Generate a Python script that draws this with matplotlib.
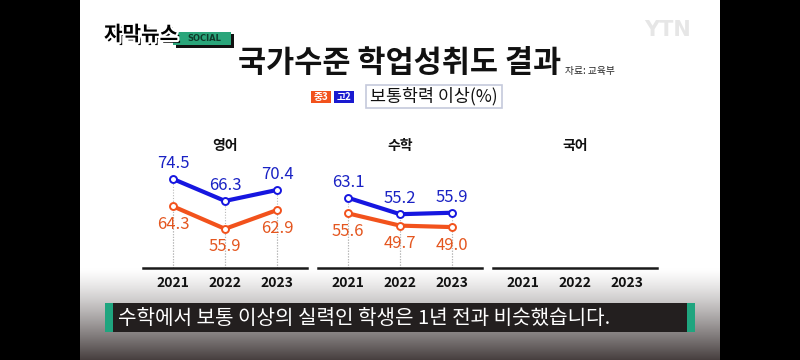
import numpy as np
import matplotlib
matplotlib.use("Agg")
import matplotlib.pyplot as plt
from matplotlib.patches import Rectangle
import matplotlib.patheffects as pe

plt.rcParams['font.family'] = ['Noto Sans CJK KR', 'DejaVu Sans']

years = ['2021', '2022', '2023']
subjects = ['영어', '수학', '국어']
eng_mid3 = [64.3, 55.9, 62.9]
eng_high2 = [74.5, 66.3, 70.4]
math_mid3 = [55.6, 49.7, 49.0]
math_high2 = [63.1, 55.2, 55.9]
series = {'영어': (eng_mid3, eng_high2), '수학': (math_mid3, math_high2), '국어': (None, None)}
ylims = {'영어': (41.3, 85.3), '수학': (29.3, 86.1), '국어': (0, 100)}

title = '국가수준 학업성취도 결과'
source = '자료: 교육부'
legend_mid = '중3'
legend_high = '고2'
unit_label = '보통학력 이상(%)'
caption = '수학에서 보통 이상의 실력인 학생은 1년 전과 비슷했습니다.'

ORANGE = '#f2521c'
ORANGE_T = '#e4561f'
BLUE = '#1616e0'
BLUE_T = '#1a22c4'
GREEN = '#1fa57f'

W, H = 800, 360
fig = plt.figure(figsize=(8, 3.6), dpi=100)
fig.patch.set_facecolor('black')

bg = fig.add_axes([0, 0, 1, 1], zorder=-5)
bg.set_xlim(0, W)
bg.set_ylim(H, 0)
bg.axis('off')
bg.add_patch(Rectangle((80, 0), 640, H, color='white', lw=0))
# bottom gradient
g = np.linspace(0, 1, 100).reshape(-1, 1) ** 1.25
top = np.array([1.0, 1.0, 1.0])
bot = np.array([0.28, 0.25, 0.25])
img = top[None, None, :] * (1 - g[:, :, None]) + bot[None, None, :] * g[:, :, None]
bg.imshow(img, extent=[80, 720, H, 268], aspect='auto', zorder=1, interpolation='bilinear')

# logo
bg.add_patch(Rectangle((176, 34), 58, 14, color='#111111', lw=0, zorder=3))
bg.add_patch(Rectangle((173, 32), 58, 13, color='#2aa57a', lw=0, zorder=4))
bg.text(204, 38.5, 'SOCIAL', fontsize=6, fontweight='bold', color='#0f3a2a', ha='center',
        va='center', zorder=5, family=['DejaVu Sans'])
bg.text(104, 34, '자막뉴스', fontsize=14.5, fontweight='black', color='black', style='italic',
        va='center', ha='left', zorder=6,
        path_effects=[pe.SimplePatchShadow(offset=(2, -2), shadow_rgbFace='black', alpha=1),
                      pe.Stroke(linewidth=3, foreground='white'), pe.Normal()])
# YTN
bg.text(668, 30, 'YTN', fontsize=15, fontweight='bold', color='#e6e6e6', ha='center',
        va='center', family=['DejaVu Sans'])

# title
bg.text(400, 63, title, fontsize=22, fontweight='bold', color='#111111', ha='center', va='center')
bg.text(565, 71, source, fontsize=7, color='#222222', ha='left', va='center')

# legend row
bg.add_patch(Rectangle((311, 91), 20, 12, color=ORANGE, lw=0))
bg.text(321, 97, legend_mid, fontsize=7, color='white', ha='center', va='center', fontweight='bold')
bg.add_patch(Rectangle((334, 91), 20, 12, color='#1a1ad0', lw=0))
bg.text(344, 97, legend_high, fontsize=7, color='white', ha='center', va='center', fontweight='bold')
bg.add_patch(Rectangle((366, 85), 136, 23, facecolor='white', edgecolor='#c5c9dc', lw=1.2))
bg.text(434, 96.5, unit_label, fontsize=12.5, color='#111111', ha='center', va='center')

# caption
bg.add_patch(Rectangle((105, 303), 590, 29, color=GREEN, lw=0, zorder=3))
bg.add_patch(Rectangle((113, 303), 574, 29, color='#231f1f', lw=0, zorder=4))
bg.text(118, 318, caption, fontsize=14.5, color='white', ha='left', va='center', zorder=5)

# panels
lefts = [143, 318, 493]
x = np.arange(len(years))
for left, subj in zip(lefts, subjects):
    ax = fig.add_axes([left / W, (H - 268) / H, 164 / W, 118 / H])
    ax.patch.set_alpha(0)
    ax.set_xlim(-0.577, 2.577)
    ax.set_ylim(*ylims[subj])
    for s in ['top', 'left', 'right']:
        ax.spines[s].set_visible(False)
    ax.spines['bottom'].set_linewidth(1.8)
    ax.spines['bottom'].set_color('#1a1a1a')
    ax.set_yticks([])
    ax.set_xticks(x)
    ax.set_xticklabels(years, fontsize=10, fontweight='bold', color='#111111')
    ax.tick_params(axis='x', length=0, pad=6)
    ax.set_title(subj, fontsize=10, fontweight='bold', color='#111111', pad=0, y=1.0)
    mid, high = series[subj]
    if mid is None:
        continue
    y0 = ylims[subj][0]
    for vals in (mid, high):
        ax.vlines(x, y0, vals, colors='#b8b8b8', linestyles=(0, (1, 1.5)), lw=0.8, zorder=1)
    for vals, col, tcol, off in ((mid, ORANGE, ORANGE_T, -13), (high, BLUE, BLUE_T, 11)):
        ax.plot(x, vals, color=col, lw=3, zorder=3, solid_joinstyle='miter',
                marker='o', markersize=5, markerfacecolor='white', markeredgecolor=col,
                markeredgewidth=1.4)
        for xi, v in zip(x, vals):
            ax.annotate(f'{v:.1f}', (xi, v), xytext=(0, off), textcoords='offset points',
                        ha='center', va='center', fontsize=12, color=tcol, clip_on=False)

fig.savefig('out.png', dpi=100, facecolor=fig.get_facecolor())
